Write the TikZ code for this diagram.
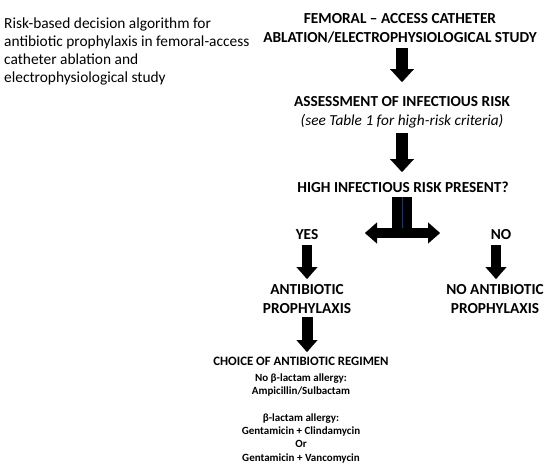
\documentclass[tikz,border=0pt]{standalone}
\usepackage{fontspec}
\setmainfont{Carlito}
\usetikzlibrary{arrows.meta}
\definecolor{navy}{HTML}{1F3864}
\begin{document}
\begin{tikzpicture}[x=1pt,y=-1pt,
  lbl/.style={inner sep=0pt, align=center, font=\fontsize{15.3}{19}\selectfont\bfseries},
  small/.style={inner sep=0pt, align=center, font=\fontsize{11}{13.3}\selectfont\bfseries},
  blk/.style={black, line width=#1, line join=miter},
  tipA/.style={-{Triangle[width=24pt,length=13pt,line width=0.1pt]}},
  tipB/.style={-{Triangle[width=21pt,length=12pt,line width=0.1pt]}}
  ]
\useasboundingbox (0,0) rectangle (550,467);
% caption
\node[anchor=north west, inner sep=0pt, align=left, font=\fontsize{15.4}{18}\selectfont] (cap) at (4,18)
  {Risk-based decision algorithm for\\antibiotic prophylaxis in femoral-access\\catheter ablation and\\electrophysiological study};
% labels
\node[lbl, anchor=north] (title) at (400,13) {FEMORAL – ACCESS CATHETER\\ABLATION/ELECTROPHYSIOLOGICAL STUDY};
\node[lbl, anchor=north] (assess) at (402,96) {ASSESSMENT OF INFECTIOUS RISK\\{\normalfont\itshape (see Table 1 for high-risk criteria)}};
\node[lbl, anchor=north] (risk) at (403,182) {HIGH INFECTIOUS RISK PRESENT?};
\node[lbl, anchor=north] (yes) at (307,229) {YES};
\node[lbl, anchor=north] (no) at (501,229) {NO};
\node[lbl, anchor=north] (abx) at (307,284) {ANTIBIOTIC\\PROPHYLAXIS};
\node[lbl, anchor=north] (noabx) at (495,284) {NO ANTIBIOTIC\\PROPHYLAXIS};
\node[small, anchor=north, font=\fontsize{12.8}{14}\selectfont\bfseries] (choice) at (301,357) {CHOICE OF ANTIBIOTIC REGIMEN};
\node[small, anchor=north] (regimen) at (301,373.5) {No β-lactam allergy:\\Ampicillin/Sulbactam\\[13.3pt]β-lactam allergy:\\Gentamicin + Clindamycin\\Or\\Gentamicin + Vancomycin};
% arrow end points
\coordinate (a1s) at (402,48);  \coordinate (a1e) at (402,82);
\coordinate (a2s) at (402,133); \coordinate (a2e) at (402,172);
\coordinate (tls) at (397,197); \coordinate (tle) at (365,233);
\coordinate (trs) at (407,197); \coordinate (tre) at (440,233);
\coordinate (tmid) at (402,228);
\coordinate (ys) at (307,245);  \coordinate (ye) at (307,279);
\coordinate (ns) at (496,245);  \coordinate (ne) at (496,279);
\coordinate (a4s) at (307,317); \coordinate (a4e) at (307,352);
% arrows
\draw[blk=12.5pt, tipA] (a1s) -- (a1e);
\draw[blk=12.5pt, tipA] (a2s) -- (a2e);
\draw[blk=10pt, tipB] (tls) |- (tle);
\draw[blk=10pt, tipB] (trs) |- (tre);
\draw[navy, line width=0.6pt] (402,197) -- (tmid);
\draw[blk=10pt, tipB] (ys) -- (ye);
\draw[blk=10pt, tipB] (ns) -- (ne);
\draw[blk=11pt, tipB] (a4s) -- (a4e);
\end{tikzpicture}
\end{document}
